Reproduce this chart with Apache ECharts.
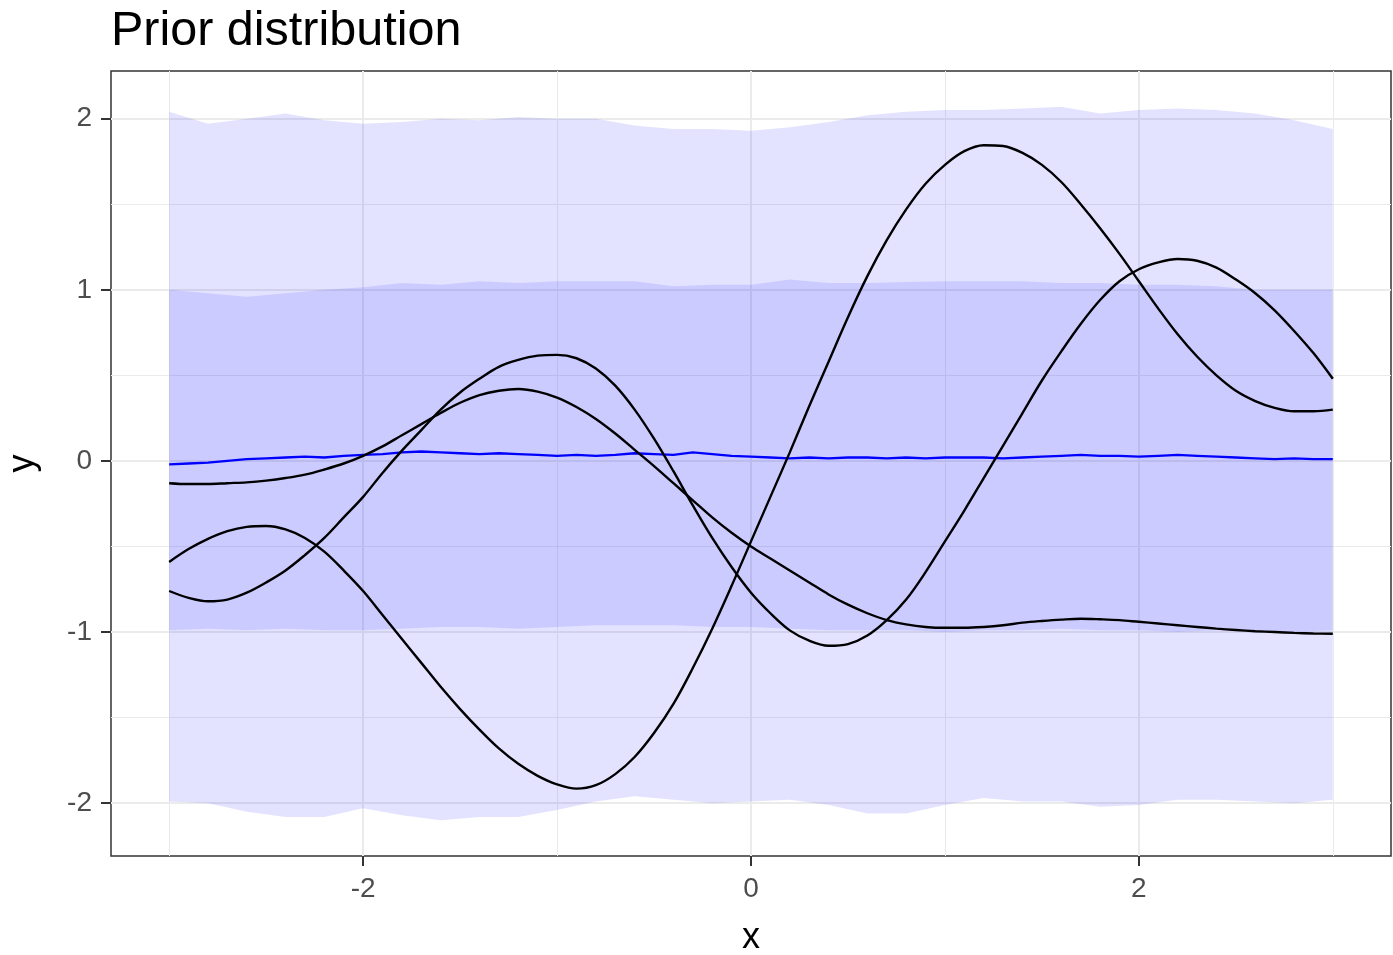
<!DOCTYPE html>
<html>
<head>
<meta charset="utf-8">
<script src="https://cdn.jsdelivr.net/npm/echarts@6/dist/echarts.min.js"></script>
<style>
  html, body { margin: 0; padding: 0; background: #fff; }
  #chart { width: 1393px; height: 955px; }
</style>
</head>
<body>
<div id="chart"></div>
<script>
// ---- data ----
const titleText = 'Prior distribution';
const xTicks = [-2, 0, 2];
const yTicks = [-2, -1, 0, 1, 2];

// ribbon grid (x) and quantile bounds
const bandX = [-3.0,-2.8,-2.6,-2.4,-2.2,-2.0,-1.8,-1.6,-1.4,-1.2,-1.0,-0.8,-0.6,-0.4,-0.2,0.0,0.2,0.4,0.6,0.8,1.0,1.2,1.4,1.6,1.8,2.0,2.2,2.4,2.6,2.8,3.0];
const upper2 = [2.04,1.97,2.00,2.03,1.99,1.97,1.98,2.00,1.99,2.01,2.00,2.00,1.96,1.94,1.94,1.93,1.95,1.98,2.02,2.04,2.05,2.05,2.06,2.07,2.03,2.05,2.06,2.05,2.03,1.99,1.94];
const upper1 = [1.00,0.98,0.96,0.98,1.00,1.015,1.04,1.03,1.05,1.04,1.05,1.05,1.05,1.02,1.03,1.03,1.06,1.04,1.04,1.045,1.05,1.05,1.05,1.04,1.04,1.03,1.03,1.02,1.00,1.00,1.00];
const lower1 = [-0.99,-0.98,-0.99,-0.98,-0.99,-0.99,-0.98,-0.97,-0.97,-0.98,-0.97,-0.96,-0.96,-0.96,-0.97,-0.97,-0.98,-0.99,-0.99,-0.99,-1.00,-0.99,-0.99,-0.98,-0.99,-0.99,-1.00,-0.99,-1.00,-1.00,-0.99];
const lower2 = [-1.99,-2.00,-2.05,-2.08,-2.08,-2.03,-2.07,-2.10,-2.08,-2.08,-2.04,-1.99,-1.96,-1.98,-2.00,-1.99,-1.98,-2.01,-2.06,-2.06,-2.01,-1.97,-1.99,-1.99,-2.02,-2.01,-1.98,-1.98,-1.99,-2.00,-1.98];

// mean line and sample curves share this x grid
const lineX = [-3.0,-2.9,-2.8,-2.7,-2.6,-2.5,-2.4,-2.3,-2.2,-2.1,-2.0,-1.9,-1.8,-1.7,-1.6,-1.5,-1.4,-1.3,-1.2,-1.1,-1.0,-0.9,-0.8,-0.7,-0.6,-0.5,-0.4,-0.3,-0.2,-0.1,0.0,0.1,0.2,0.3,0.4,0.5,0.6,0.7,0.8,0.9,1.0,1.1,1.2,1.3,1.4,1.5,1.6,1.7,1.8,1.9,2.0,2.1,2.2,2.3,2.4,2.5,2.6,2.7,2.8,2.9,3.0];
const meanY = [-0.02,-0.015,-0.01,0.0,0.01,0.015,0.02,0.025,0.02,0.03,0.035,0.04,0.05,0.055,0.05,0.045,0.04,0.045,0.04,0.035,0.03,0.035,0.03,0.035,0.045,0.04,0.035,0.05,0.04,0.03,0.025,0.02,0.015,0.02,0.015,0.02,0.02,0.015,0.02,0.015,0.02,0.02,0.02,0.015,0.02,0.025,0.03,0.035,0.03,0.03,0.025,0.03,0.035,0.03,0.025,0.02,0.015,0.01,0.015,0.01,0.01];
const sampleA = [-0.59,-0.515,-0.455,-0.41,-0.385,-0.38,-0.40,-0.45,-0.53,-0.64,-0.76,-0.90,-1.04,-1.18,-1.32,-1.45,-1.57,-1.68,-1.77,-1.84,-1.89,-1.915,-1.895,-1.83,-1.73,-1.59,-1.42,-1.21,-0.98,-0.73,-0.47,-0.21,0.05,0.32,0.58,0.84,1.08,1.29,1.47,1.62,1.73,1.81,1.845,1.84,1.80,1.73,1.63,1.50,1.36,1.21,1.05,0.89,0.74,0.61,0.50,0.41,0.35,0.31,0.29,0.29,0.30];
const sampleB = [-0.76,-0.80,-0.82,-0.81,-0.77,-0.71,-0.64,-0.55,-0.45,-0.33,-0.21,-0.07,0.06,0.18,0.30,0.40,0.48,0.55,0.59,0.615,0.62,0.60,0.54,0.44,0.30,0.13,-0.06,-0.26,-0.45,-0.62,-0.77,-0.89,-0.99,-1.05,-1.08,-1.07,-1.02,-0.93,-0.81,-0.65,-0.47,-0.29,-0.10,0.09,0.28,0.47,0.64,0.80,0.94,1.05,1.12,1.16,1.18,1.17,1.13,1.06,0.98,0.88,0.76,0.63,0.48];
const sampleC = [-0.13,-0.135,-0.135,-0.13,-0.125,-0.115,-0.10,-0.08,-0.05,-0.015,0.03,0.085,0.15,0.215,0.28,0.34,0.385,0.41,0.42,0.405,0.37,0.315,0.245,0.16,0.065,-0.03,-0.13,-0.23,-0.33,-0.42,-0.50,-0.57,-0.64,-0.71,-0.78,-0.84,-0.89,-0.93,-0.955,-0.97,-0.975,-0.975,-0.97,-0.96,-0.945,-0.935,-0.927,-0.922,-0.925,-0.93,-0.94,-0.95,-0.96,-0.97,-0.98,-0.988,-0.995,-1.0,-1.005,-1.008,-1.01];

// ---- build ----
const zip = (xs, ys) => xs.map((x, i) => [x, ys[i]]);

const allY = upper2.concat(lower2);
const yMinD = Math.min(...allY), yMaxD = Math.max(...allY);
const yPad = (yMaxD - yMinD) * 0.05;
const xMinD = Math.min(...bandX), xMaxD = Math.max(...bandX);
const xPad = (xMaxD - xMinD) * 0.05;

const FONT = 'Liberation Sans, Arial, sans-serif';
const gridCol = '#EBEBEB';

function bandSeries(lo, hi, color) {
  return {
    type: 'custom',
    silent: true,
    clip: true,
    data: bandX.map((x, i) => [x, lo[i], hi[i]]),
    encode: { x: 0, y: [1, 2] },
    renderItem: function (params, api) {
      if (params.dataIndex !== 0) return null;
      const top = [], bot = [];
      for (let i = 0; i < bandX.length; i++) {
        top.push(api.coord([bandX[i], hi[i]]));
        bot.push(api.coord([bandX[i], lo[i]]));
      }
      return { type: 'polygon', shape: { points: top.concat(bot.reverse()) }, style: { fill: color } };
    }
  };
}

function curve(name, ys, color, smooth, width) {
  return { type: 'line', name: name, data: zip(lineX, ys), smooth: smooth, showSymbol: false, symbol: 'none', silent: true,
           lineStyle: { color: color, width: width }, emphasis: { disabled: true } };
}

const chart = echarts.init(document.getElementById('chart'), null, { renderer: 'canvas' });

chart.setOption({
  animation: false,
  backgroundColor: '#ffffff',
  title: {
    text: titleText,
    left: 106,
    top: 2,
    textStyle: { fontFamily: FONT, fontSize: 48.5, fontWeight: 'normal', color: '#000' }
  },
  grid: {
    left: 111, right: 2, top: 71, bottom: 99,
    outerBoundsMode: 'none',
    containLabel: false,
    show: true, borderColor: '#333333', borderWidth: 1.5, backgroundColor: 'transparent'
  },
  xAxis: {
    type: 'value',
    min: xMinD - xPad, max: xMaxD + xPad,
    splitNumber: 3,
    name: 'x',
    nameLocation: 'middle',
    nameGap: 64,
    nameTextStyle: { fontFamily: FONT, fontSize: 36, color: '#000' },
    axisLine: { show: false, onZero: false },
    axisTick: { show: true, customValues: xTicks, length: 10, lineStyle: { color: '#333', width: 2 } },
    axisLabel: { customValues: xTicks, margin: 19, fontFamily: FONT, fontSize: 28, color: '#4D4D4D' },
    splitLine: { show: true, lineStyle: { color: gridCol, width: 2 } },
    minorTick: { show: false, splitNumber: 2 },
    minorSplitLine: { show: true, lineStyle: { color: gridCol, width: 1 } }
  },
  yAxis: {
    type: 'value',
    min: yMinD - yPad, max: yMaxD + yPad,
    splitNumber: 5,
    name: 'y',
    nameLocation: 'middle',
    nameRotate: 90,
    nameGap: 70,
    nameTextStyle: { fontFamily: FONT, fontSize: 36, color: '#000' },
    axisLine: { show: false, onZero: false },
    axisTick: { show: true, customValues: yTicks, length: 10, lineStyle: { color: '#333', width: 2 } },
    axisLabel: { customValues: yTicks, margin: 19, fontFamily: FONT, fontSize: 28, color: '#4D4D4D' },
    splitLine: { show: true, lineStyle: { color: gridCol, width: 2 } },
    minorTick: { show: false, splitNumber: 2 },
    minorSplitLine: { show: true, lineStyle: { color: gridCol, width: 1 } }
  },
  series: [
    bandSeries(lower2, upper2, 'rgba(0,0,255,0.11)'),
    bandSeries(lower1, upper1, 'rgba(0,0,255,0.10)'),
    curve('mean', meanY, '#0000FF', false, 2.3),
    curve('A', sampleA, '#000000', 0.35, 2.4),
    curve('B', sampleB, '#000000', 0.35, 2.4),
    curve('C', sampleC, '#000000', 0.35, 2.4)
  ]
});
</script>
</body>
</html>
